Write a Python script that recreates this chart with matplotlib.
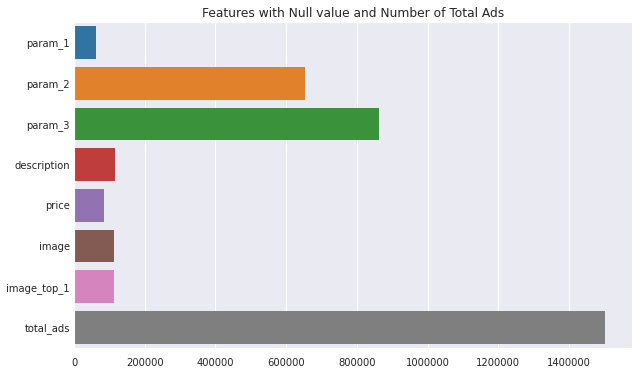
import matplotlib
matplotlib.use("Agg")
import matplotlib.pyplot as plt
import seaborn as sns

# features with nulls, plus total number of ads
features = ["param_1", "param_2", "param_3", "description", "price",
            "image", "image_top_1", "total_ads"]
null_counts = [61576, 654542, 862565, 116276, 85362, 112588, 112588, 1503424]

sns.set_style("darkgrid")
plt.rcParams["font.family"] = ["DejaVu Sans"]

fig, ax = plt.subplots(figsize=(6.39, 3.70), dpi=100)
sns.barplot(x=null_counts, y=features, hue=features, palette="tab10",
            legend=False, ax=ax, orient="h", linewidth=0)
ax.set_title("Features with Null value and Number of Total Ads", fontsize=8.8, pad=4)
ax.ticklabel_format(axis="x", style="plain")
ax.tick_params(axis="both", labelsize=7.2)
ax.tick_params(axis="y", pad=-0.5)
ax.set_xticks(range(0, 1400001, 200000))
fig.subplots_adjust(left=0.116, right=0.989, top=0.94, bottom=0.06)
fig.savefig("out.png", dpi=100)
